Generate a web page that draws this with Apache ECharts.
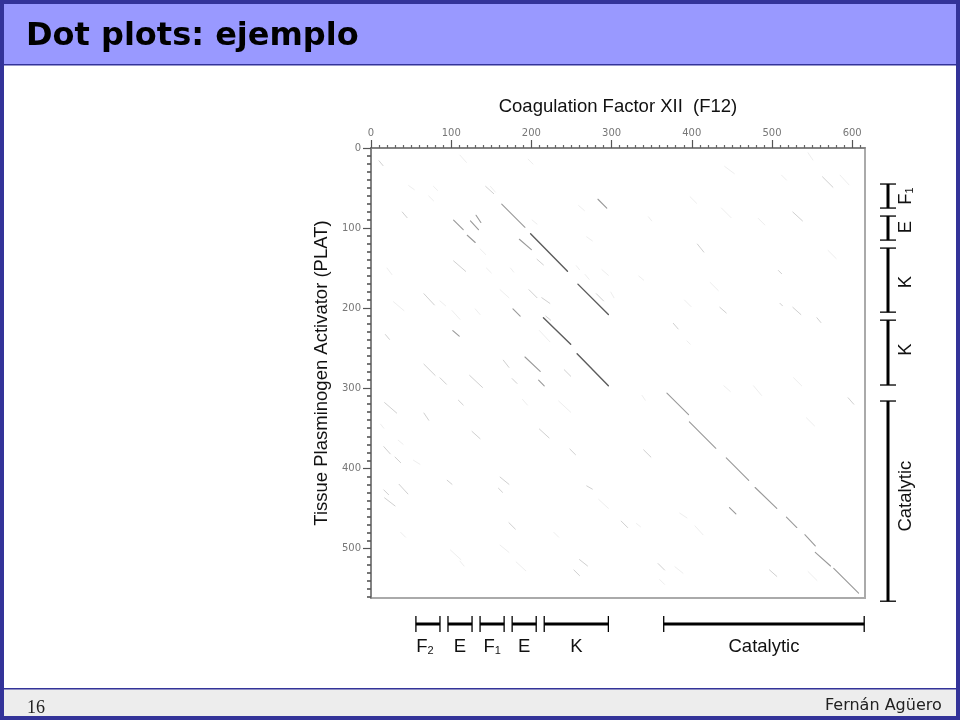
<!DOCTYPE html>
<html><head><meta charset="utf-8">
<style>html,body{margin:0;padding:0;background:#fff}#c{width:960px;height:720px}</style>
<script src="https://cdn.jsdelivr.net/npm/echarts@6/dist/echarts.min.js"></script>
</head><body><div id="c"></div>
<script>
const slideTitle = "Dot plots: ejemplo";
const authorName = "Fernán Agüero";
const pageNumber = "16";
const xTitle = "Coagulation Factor XII  (F12)";
const yTitle = "Tissue Plasminogen Activator (PLAT)";
const xMax = 616, yMax = 562;
const xTickValues = [0,100,200,300,400,500,600];
const yTickValues = [0,100,200,300,400,500];

// [x1, y1, x2, y2] residue coordinates of each diagonal run
const strongSegments = [
 [199,107,245,154],[258,170,296,208],[215,212,249,245],[257,257,296,297]
];
const mediumSegments = [
 [163,70,192,99],[369,306,396,333],[397,342,430,375],[443,387,471,415],[479,424,506,450],
 [554,505,573,522],[577,525,608,556],[518,461,531,474],[541,483,554,497],[447,449,455,457],
 [120,109,130,118],[185,114,200,127],[103,90,115,102],[124,91,134,102],[131,84,137,93],
 [192,261,211,279],[209,290,216,297],[102,228,110,235],[177,201,186,210],[283,64,294,75]
];
const lightSegments = [
 [39,80,45,87],[207,139,215,146],[103,141,118,154],[197,177,207,187],[213,187,223,194],
 [66,182,79,196],[18,233,23,239],[143,48,153,57],[281,182,290,191],[218,210,224,215],
 [241,277,249,285],[165,265,172,274],[176,288,182,294],[123,284,139,299],[66,270,80,284],
 [86,287,94,295],[17,318,32,331],[66,331,72,340],[109,315,115,321],[126,354,136,363],
 [210,351,222,362],[248,376,255,383],[340,377,349,386],[16,373,24,382],[30,386,37,393],
 [35,420,46,432],[16,427,22,433],[17,437,30,447],[95,415,101,420],[161,411,172,420],
 [159,425,164,430],[172,468,180,476],[269,422,276,426],[312,466,320,474],[253,527,260,534],
 [260,514,270,522],[563,36,576,49],[526,80,538,91],[407,120,415,130],[526,199,536,208],
 [556,212,561,218],[435,199,443,206],[377,219,383,226],[595,312,602,320],[510,194,513,197],
 [508,153,512,157],[358,519,366,527],[497,527,506,535],[10,16,15,22]
];
const faintSegments = [
 [161,177,172,187],[149,48,155,55],[259,72,266,78],[210,228,223,242],[111,9,119,18],
 [47,47,54,52],[78,48,83,53],[136,126,143,133],[269,111,276,116],[174,150,178,155],
 [101,203,111,214],[130,201,136,208],[86,191,93,197],[28,192,41,203],[299,180,303,187],
 [334,160,340,165],[288,152,296,159],[256,147,260,152],[267,158,272,164],[346,86,350,91],
 [201,90,207,95],[189,314,195,321],[234,316,249,330],[53,390,61,395],
 [12,345,16,350],[34,365,40,370],[284,439,296,450],[331,469,336,473],[99,502,112,514],
 [111,516,116,522],[161,496,172,505],[181,517,193,528],[37,480,43,486],[228,480,234,486],
 [338,309,342,315],[437,75,449,87],[398,61,406,69],[483,88,491,96],[394,241,398,245],
 [440,297,448,304],[527,287,537,297],[570,128,580,138],[585,34,596,46],[545,6,551,15],
 [423,168,433,178],[391,190,399,198],[512,34,518,40],[441,23,453,32],[477,297,487,309],
 [543,337,553,347],[360,539,366,545],[404,472,414,483],[385,456,394,462],[379,523,389,531],
 [545,529,556,540],[72,60,78,66],[196,14,202,20],[20,150,26,158],[144,150,150,156]
];

// domain name, subscript, start residue, end residue
const topDomains = [
 ["F","2",56,86],["E","",96,126],["F","1",136,166],["E","",176,206],["K","",216,296],["Catalytic","",365,615]
];
const sideDomains = [
 ["F","1",45,75],["E","",85,115],["K","",125,205],["K","",215,296],["Catalytic","",316,566]
];

const INK = "#000";
const FONT = "'Liberation Sans', Arial, sans-serif";
const bottomLabelShift = [-3,0,0,0,0,0];
const sideLabelShift = [0,-1,2,-3,-5];

function segmentSeries(rows, color, width){
  return {
    type:"custom", data:rows, encode:{x:[0,2],y:[1,3]}, silent:true, clip:true,
    renderItem(params, api){
      const a = api.coord([api.value(0), api.value(1)]);
      const b = api.coord([api.value(2), api.value(3)]);
      return {type:"line", shape:{x1:a[0],y1:a[1],x2:b[0],y2:b[1]},
              style:{stroke:color, lineWidth:width, lineCap:"round"}};
    }
  };
}
function labelText(name, sub){ return sub ? "{m|"+name+"}{s|"+sub+"}" : "{m|"+name+"}"; }
const labelRich = { m:{fontFamily:FONT,fontSize:18.5,fill:"#111",color:"#111",verticalAlign:"bottom"},
                    s:{fontFamily:FONT,fontSize:11,fill:"#111",color:"#111",verticalAlign:"bottom"} };

function bottomBrackets(){
  return {
    type:"custom", data:topDomains.map(d=>[d[2],d[3],d[0],d[1]]), encode:{x:[0,1]}, silent:true, clip:false,
    renderItem(params, api){
      const cs = params.coordSys, y = cs.y+cs.height+26;
      const x1 = api.coord([api.value(0),0])[0], x2 = api.coord([api.value(1),0])[0];
      const d = topDomains[params.dataIndex];
      return {type:"group", children:[
        {type:"line",shape:{x1,y1:y,x2,y2:y},style:{stroke:INK,lineWidth:3}},
        {type:"line",shape:{x1,y1:y-8,x2:x1,y2:y+8},style:{stroke:INK,lineWidth:1.3}},
        {type:"line",shape:{x1:x2,y1:y-8,x2,y2:y+8},style:{stroke:INK,lineWidth:1.3}},
        {type:"text",x:(x1+x2)/2+bottomLabelShift[params.dataIndex],y:y+23,style:{text:labelText(d[0],d[1]),rich:labelRich,align:"center",verticalAlign:"middle"}}
      ]};
    }
  };
}
function sideBrackets(){
  return {
    type:"custom", data:sideDomains.map(d=>[d[2],d[3],d[0],d[1]]), encode:{y:[0,1]}, silent:true, clip:false,
    renderItem(params, api){
      const cs = params.coordSys, x = cs.x+cs.width+23;
      const y1 = api.coord([0,api.value(0)])[1], y2 = api.coord([0,api.value(1)])[1];
      const d = sideDomains[params.dataIndex];
      return {type:"group", children:[
        {type:"line",shape:{x1:x,y1,x2:x,y2},style:{stroke:INK,lineWidth:3}},
        {type:"line",shape:{x1:x-8,y1,x2:x+8,y2:y1},style:{stroke:INK,lineWidth:1.3}},
        {type:"line",shape:{x1:x-8,y1:y2,x2:x+8,y2},style:{stroke:INK,lineWidth:1.3}},
        {type:"text",x:x+18,y:(y1+y2)/2+sideLabelShift[params.dataIndex],rotation:Math.PI/2,style:{text:labelText(d[0],d[1]),rich:labelRich,align:"center",verticalAlign:"middle"}}
      ]};
    }
  };
}

const tickLabel = {color:"#777",fontFamily:"'DejaVu Sans',sans-serif",fontSize:10,showMinLabel:true,showMaxLabel:true,margin:10};
const axisCommon = {
  interval:100, min:0, splitLine:{show:false},
  axisLine:{show:true,onZero:false,lineStyle:{color:"#777",width:1.5}},
  minorSplitLine:{show:false},
  nameLocation:"middle",
  nameTextStyle:{color:"#111",fontFamily:FONT,fontSize:18.5}
};

const chart = echarts.init(document.getElementById("c"),null,{renderer:"canvas"});
chart.setOption({
  animation:false,
  backgroundColor:"#fff",
  title:{text:slideTitle,left:21,top:16,textStyle:{fontFamily:"'DejaVu Sans',sans-serif",fontWeight:"bold",fontSize:32,color:"#000"}},
  graphic:{elements:[
    {type:"rect",z:-5,shape:{x:0,y:0,width:960,height:65},style:{fill:"#9999FF"}},
    {type:"rect",z:-5,shape:{x:0,y:688,width:960,height:32},style:{fill:"#EDEDED"}},
    {type:"rect",z:-4,shape:{x:0,y:64,width:960,height:1.5},style:{fill:"#333399"}},
    {type:"rect",z:-4,shape:{x:0,y:688,width:960,height:1.5},style:{fill:"#333399"}},
    {type:"rect",z:-4,shape:{x:0,y:0,width:960,height:4},style:{fill:"#333399"}},
    {type:"rect",z:-4,shape:{x:0,y:716,width:960,height:4},style:{fill:"#333399"}},
    {type:"rect",z:-4,shape:{x:0,y:0,width:4,height:720},style:{fill:"#333399"}},
    {type:"rect",z:-4,shape:{x:956,y:0,width:4,height:720},style:{fill:"#333399"}},
    {type:"text",z:5,x:825,y:698,style:{text:authorName,fill:"#222",font:"16px 'DejaVu Sans',sans-serif"}},
    {type:"text",z:5,x:27,y:699,style:{text:pageNumber,fill:"#222",font:"18px 'Liberation Serif',serif"}}
  ]},
  grid:{left:371,right:95,top:148,bottom:122,show:true,backgroundColor:"#fff",borderColor:"#aaa",borderWidth:2},
  xAxis:Object.assign({},axisCommon,{type:"value",position:"top",max:xMax,name:xTitle,nameGap:32,
    axisLabel:Object.assign({},tickLabel,{customValues:xTickValues}),
    axisTick:{show:true,length:8,customValues:xTickValues,lineStyle:{color:"#555",width:1.2}},
    minorTick:{show:true,splitNumber:10,length:3,lineStyle:{color:"#666",width:1.2}}}),
  yAxis:Object.assign({},axisCommon,{type:"value",position:"left",inverse:true,max:yMax,name:yTitle,nameGap:40,
    axisLabel:Object.assign({},tickLabel,{customValues:yTickValues}),
    axisTick:{show:true,length:8,customValues:yTickValues,lineStyle:{color:"#555",width:1.2}},
    minorTick:{show:true,splitNumber:10,length:4,lineStyle:{color:"#555",width:1.6}}}),
  series:[
    segmentSeries(faintSegments,"#eeeeee",1),
    segmentSeries(lightSegments,"#d0d0d0",1),
    segmentSeries(mediumSegments,"#999999",1.1),
    segmentSeries(strongSegments,"#5c5c5c",1.4),
    bottomBrackets(),
    sideBrackets()
  ]
});
</script></body></html>
